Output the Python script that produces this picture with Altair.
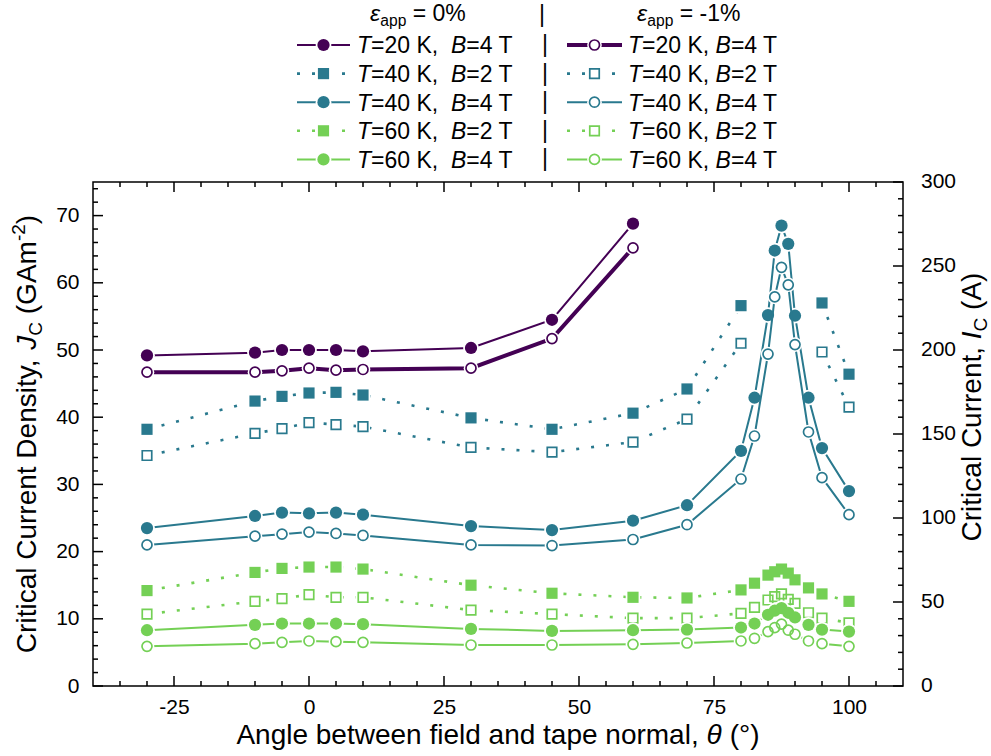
import altair as alt
import pandas as pd

FONT = "Liberation Sans"
PURPLE, TEAL, GREEN = "#440154", "#29798e", "#74d055"
W, H = 810, 504

# ---------------- data ----------------
theta_a = [-30, -10, -5, 0, 5, 10, 30, 45, 60]
theta_b = [-30, -10, -5, 0, 5, 10, 30, 45, 60, 70, 80, 95, 100]
theta_c = [-30, -10, -5, 0, 5, 10, 30, 45, 60, 70, 80, 82.5, 85, 86.25, 87.5,
           88.75, 90, 92.5, 95, 100]
seg_b = [0, 0, 0, 0, 0, 0, 0, 0, 0, 0, 0, 1, 1]

jc_20K_4T_0 = [49.2, 49.6, 50.0, 50.0, 50.0, 49.8, 50.3, 54.5, 68.8]
jc_20K_4T_1 = [46.7, 46.7, 46.9, 47.3, 47.0, 47.1, 47.3, 51.7, 65.2]
jc_40K_2T_0 = [38.2, 42.4, 43.1, 43.6, 43.7, 43.3, 39.9, 38.2, 40.6, 44.2, 56.6, 57.0, 46.4]
jc_40K_2T_1 = [34.3, 37.6, 38.3, 39.2, 38.9, 38.6, 35.5, 34.8, 36.3, 39.7, 51.0, 49.7, 41.5]
jc_40K_4T_0 = [23.5, 25.3, 25.8, 25.7, 25.8, 25.5, 23.8, 23.2, 24.6, 26.9, 35.0, 42.9,
               55.2, 64.8, 68.5, 65.8, 55.1, 42.9, 35.4, 29.0]
jc_40K_4T_1 = [21.0, 22.3, 22.6, 22.9, 22.7, 22.4, 21.0, 20.9, 21.8, 24.0, 30.8, 37.2,
               49.4, 57.9, 62.3, 59.7, 50.8, 37.8, 31.0, 25.5]
jc_60K_2T_0 = [14.2, 16.9, 17.5, 17.7, 17.7, 17.4, 15.0, 13.8, 13.2, 13.1, 14.3, 15.3,
               16.5, 17.0, 17.4, 16.8, 15.8, 14.6, 13.7, 12.6]
jc_60K_2T_1 = [10.7, 12.6, 13.0, 13.6, 13.2, 13.2, 11.3, 10.7, 10.1, 10.1, 10.8, 11.7,
               12.8, 13.3, 13.7, 12.9, 12.3, 10.9, 10.1, 9.4]
jc_60K_4T_0 = [8.3, 9.1, 9.3, 9.3, 9.3, 9.2, 8.5, 8.2, 8.3, 8.4, 8.7, 9.3,
               10.6, 11.2, 11.6, 10.9, 10.2, 9.1, 8.4, 8.1]
jc_60K_4T_1 = [5.9, 6.3, 6.5, 6.7, 6.6, 6.5, 6.1, 6.1, 6.2, 6.4, 6.7, 7.1,
               8.1, 8.7, 9.2, 8.3, 7.7, 6.7, 6.3, 5.9]

legend_T = ["=20 K,", "=40 K,", "=40 K,", "=60 K,", "=60 K,"]
legend_B = ["=4 T", "=2 T", "=4 T", "=2 T", "=4 T"]
strain_labels = [" = 0%", " = -1%"]

x_major = [-25, 0, 25, 50, 75, 100]
x_minor = [v for v in range(-35, 110, 5) if v not in x_major]
y_major = [0, 10, 20, 30, 40, 50, 60, 70]
y_minor = [v for v in range(2, 76, 2) if v % 10 != 0]
ic_labels = [0, 50, 100, 150, 200, 250, 300]
ic_minor = [v for v in range(10, 300, 10) if v % 50 != 0]

# ---------------- helpers ----------------
AW = {' ': 278, '%': 889, '(': 333, ')': 333, ',': 278, '-': 333, '.': 278, '=': 584,
      '|': 260, '°': 400, 'A': 667, 'B': 667, 'C': 722, 'D': 722, 'G': 778, 'I': 278,
      'J': 500, 'K': 667, 'T': 611, 'a': 556, 'b': 556, 'c': 500, 'd': 556, 'e': 556,
      'f': 278, 'g': 556, 'h': 556, 'i': 222, 'l': 222, 'm': 833, 'n': 556, 'o': 556,
      'p': 556, 'r': 333, 's': 500, 't': 278, 'u': 556, 'w': 722, 'y': 500,
      'ε': 446, 'θ': 556}


def tw(s, size):
    return sum(AW.get(ch, 556) for ch in s) * size / 1000.0


dummy = pd.DataFrame({"d": [0]})


def text_layer(s, x, y, size, italic=False, angle=0, align="left", baseline="alphabetic"):
    kw = dict(font=FONT, fontSize=size, align=align, baseline=baseline, color="black")
    if italic:
        kw["fontStyle"] = "italic"
    if angle:
        kw["angle"] = angle
    return alt.Chart(dummy).mark_text(**kw).encode(
        x=alt.value(x), y=alt.value(y), text=alt.value(s))


def rich(pieces, x0, y0, size, vertical=False):
    """pieces: (text, style) with style in n / i / sub / sup"""
    out = []
    pos = 0.0
    for s, st in pieces:
        fs = size * 0.68 if st in ("sub", "sup") else size
        shift = size * 0.22 if st == "sub" else (-size * 0.40 if st == "sup" else 0.0)
        lead = len(s) - len(s.lstrip())
        vis = s.strip()
        off = pos + tw(s[:lead], fs)
        if vis:
            if vertical:
                out.append(text_layer(vis, x0 + shift, y0 - off, fs, italic=(st == "i"), angle=270))
            else:
                out.append(text_layer(vis, x0 + off, y0 + shift, fs, italic=(st == "i")))
        pos += tw(s, fs)
    return out, pos


def rich_width(pieces, size):
    return sum(tw(s, size * 0.68 if st in ("sub", "sup") else size) for s, st in pieces)


# ---------------- encodings ----------------
X = alt.X("theta:Q", scale=alt.Scale(domain=[-40, 110], nice=False, zero=False),
          axis=alt.Axis(values=x_major, ticks=False, domain=False, grid=False, labelFlush=False,
                        labelExpr="'' + datum.value",
                        labelFont=FONT, labelFontSize=21, labelColor="black",
                        labelPadding=10, title=""))
Y = alt.Y("J:Q", scale=alt.Scale(domain=[0, 75], nice=False, zero=False),
          axis=alt.Axis(values=y_major, ticks=False, domain=False, grid=False, labelFlush=False,
                        labelFont=FONT, labelFontSize=21, labelColor="black",
                        labelPadding=14, title=""))

SIZES = {("circle", True): 150, ("square", True): 125, ("circle", False): 100, ("square", False): 90}

series = [
    dict(theta=theta_a, jc=jc_20K_4T_0, color=PURPLE, shape="circle", filled=True, dotted=False, width=2, row=0, col=0),
    dict(theta=theta_a, jc=jc_20K_4T_1, color=PURPLE, shape="circle", filled=False, dotted=False, width=4, row=0, col=1),
    dict(theta=theta_b, jc=jc_40K_2T_0, color=TEAL, shape="square", filled=True, dotted=True, width=2, row=1, col=0, seg=seg_b),
    dict(theta=theta_b, jc=jc_40K_2T_1, color=TEAL, shape="square", filled=False, dotted=True, width=2, row=1, col=1, seg=seg_b),
    dict(theta=theta_c, jc=jc_40K_4T_0, color=TEAL, shape="circle", filled=True, dotted=False, width=2, row=2, col=0),
    dict(theta=theta_c, jc=jc_40K_4T_1, color=TEAL, shape="circle", filled=False, dotted=False, width=2, row=2, col=1),
    dict(theta=theta_c, jc=jc_60K_2T_0, color=GREEN, shape="square", filled=True, dotted=True, width=2, row=3, col=0),
    dict(theta=theta_c, jc=jc_60K_2T_1, color=GREEN, shape="square", filled=False, dotted=True, width=2, row=3, col=1),
    dict(theta=theta_c, jc=jc_60K_4T_0, color=GREEN, shape="circle", filled=True, dotted=False, width=2, row=4, col=0),
    dict(theta=theta_c, jc=jc_60K_4T_1, color=GREEN, shape="circle", filled=False, dotted=False, width=2, row=4, col=1),
]


def marker_kw(s):
    size = SIZES[(s["shape"], s["filled"])]
    if s["filled"]:
        halo = (size ** 0.5 + 3.5) ** 2
        mk = dict(shape=s["shape"], filled=True, color=s["color"], size=size, opacity=1)
    else:
        halo = (size ** 0.5 + 1.6 + 3) ** 2
        mk = dict(shape=s["shape"], filled=False, color=s["color"], size=size,
                  strokeWidth=1.7, opacity=1)
    hk = dict(shape=s["shape"], filled=True, color="white", size=halo, opacity=1)
    return hk, mk


def line_kw(s):
    kw = dict(color=s["color"], strokeWidth=s["width"])
    if s["dotted"]:
        kw["strokeDash"] = [3, 12]
        kw["strokeWidth"] = 2.6
    return kw


layers = []

# data series
for s in series:
    df = pd.DataFrame({"theta": s["theta"], "J": s["jc"],
                       "seg": s.get("seg", [0] * len(s["theta"]))})
    base = alt.Chart(df).encode(x=X, y=Y)
    hk, mk = marker_kw(s)
    layers.append(base.mark_line(**line_kw(s)).encode(detail="seg:N"))
    layers.append(base.mark_point(**hk))
    layers.append(base.mark_point(**mk))

# inward ticks
TICK = dict(color="black", strokeWidth=1.5)
xt_major = pd.DataFrame({"theta": x_major})
xt_minor = pd.DataFrame({"theta": x_minor})
yt_major = pd.DataFrame({"J": y_major})
yt_minor = pd.DataFrame({"J": y_minor})
rt_major = pd.DataFrame({"J": [v / 4 for v in ic_labels]})
rt_minor = pd.DataFrame({"J": [v / 4 for v in ic_minor]})
for df, ln in ((xt_major, 10), (xt_minor, 5)):
    layers.append(alt.Chart(df).mark_rule(**TICK).encode(x=X, y=alt.value(H), y2=alt.value(H - ln)))
    layers.append(alt.Chart(df).mark_rule(**TICK).encode(x=X, y=alt.value(0), y2=alt.value(ln)))
for df, ln in ((yt_major, 10), (yt_minor, 5)):
    layers.append(alt.Chart(df).mark_rule(**TICK).encode(y=Y, x=alt.value(0), x2=alt.value(ln)))
for df, ln in ((rt_major, 10), (rt_minor, 5)):
    layers.append(alt.Chart(df).mark_rule(**TICK).encode(y=Y, x=alt.value(W), x2=alt.value(W - ln)))

# right axis labels (critical current, I = 4 J)
ic_df = pd.DataFrame({"J": [v / 4 for v in ic_labels], "lab": [str(v) for v in ic_labels]})
layers.append(alt.Chart(ic_df).mark_text(font=FONT, fontSize=21, align="left", baseline="middle",
                                         color="black").encode(y=Y, x=alt.value(W + 18), text="lab:N"))

# axis titles
TS = 28
xt_pieces = [("Angle between field and tape normal, ", "n"), ("θ", "i"), (" (°)", "n")]
wx = rich_width(xt_pieces, TS)
lay, _ = rich(xt_pieces, W / 2 - wx / 2, H + 58, TS)
layers += lay

yl_pieces = [("Critical Current Density, ", "n"), ("J", "i"), ("C", "sub"), (" (GAm", "n"),
             ("-2", "sup"), (")", "n")]
wy = rich_width(yl_pieces, TS)
lay, _ = rich(yl_pieces, -57, H / 2 + wy / 2, TS, vertical=True)
layers += lay

yr_pieces = [("Critical Current, ", "n"), ("I", "i"), ("C", "sub"), (" (A)", "n")]
wr = rich_width(yr_pieces, TS)
lay, _ = rich(yr_pieces, W + 78, 225 + wr / 2, TS, vertical=True)
layers += lay

# ---------------- legend ----------------
LS = 23
row_c = [-137 + 28.6 * i for i in range(5)]
col_line = [(204, 257, 230.5), (474, 529, 501.5)]
col_text = [264, 535]
head_x = [277, 544]

for s in series:
    r, c = s["row"], s["col"]
    yc = row_c[r]
    x1, x2, xm = col_line[c]
    hk, mk = marker_kw(s)
    layers.append(alt.Chart(dummy).mark_rule(**line_kw(s)).encode(
        x=alt.value(x1), x2=alt.value(x2), y=alt.value(yc)))
    layers.append(alt.Chart(dummy).mark_point(**hk).encode(x=alt.value(xm), y=alt.value(yc)))
    layers.append(alt.Chart(dummy).mark_point(**mk).encode(x=alt.value(xm), y=alt.value(yc)))

for c in range(2):
    for r in range(5):
        pcs = [("T", "i"), (legend_T[r], "n"), (" " * (2 - c), "n"), ("B", "i"), (legend_B[r], "n")]
        lay, _ = rich(pcs, col_text[c], row_c[r] + 8.3, LS)
        layers += lay
    hp = [("ε", "i"), ("app", "sub"), (strain_labels[c], "n")]
    lay, _ = rich(hp, head_x[c], -161, LS)
    layers += lay

for r in range(5):
    layers.append(text_layer("|", 452, row_c[r], LS, align="center", baseline="middle"))
layers.append(text_layer("|", 449, -167, LS, align="center", baseline="middle"))

chart = alt.layer(*layers).properties(
    width=W, height=H,
    padding={"left": 93, "top": 182, "right": 88, "bottom": 70},
    autosize=alt.AutoSizeParams(type="none"),
    background="white",
).configure_view(stroke="black", strokeWidth=1.5)

chart.save("out.html", embed_options={"renderer": "svg", "actions": False})
